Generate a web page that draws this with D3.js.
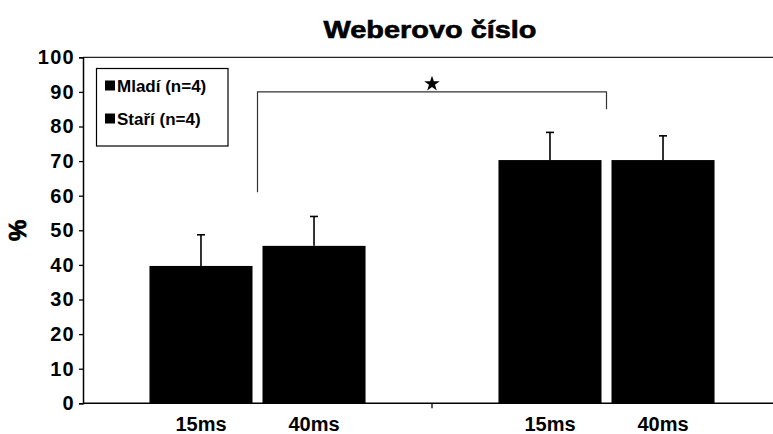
<!DOCTYPE html>
<html>
<head>
<meta charset="utf-8">
<script src="https://cdn.jsdelivr.net/npm/d3@7"></script>
<style>
  body { margin: 0; background: #fff; }
  text { font-family: "Liberation Sans", Arial, sans-serif; fill: #000; }
</style>
</head>
<body>
<svg id="chart"></svg>
<script>
const width = 773;
const height = 434;

// data
const groups = ["Mladí (n=4)", "Staří (n=4)"];
const conditions = ["15ms", "40ms"];
const means = [[39.7, 45.5], [70.3, 70.3]];
const errors = [[9, 8.5], [8, 7]];
const yTicks = [0, 10, 20, 30, 40, 50, 60, 70, 80, 90, 100];
// significance bracket: height and where each leg ends (in %)
const bracket = { top: 90, leftEnd: 61, rightEnd: 85, label: "*" };

const margin = { left: 83, top: 57.3, bottom: 30.7 };

const svg = d3.select("#chart")
  .attr("width", width)
  .attr("height", height);

const x0 = d3.scaleBand()
  .domain(groups)
  .range([margin.left, 781])
  .paddingInner(0)
  .paddingOuter(0);

const x1 = d3.scaleBand()
  .domain(conditions)
  .range([0, x0.bandwidth()])
  .paddingInner(0.0885)
  .paddingOuter(0.588);

const y = d3.scaleLinear()
  .domain([0, 100])
  .range([height - margin.bottom, margin.top]);

// title
svg.append("text")
  .attr("x", 430)
  .attr("y", 38)
  .attr("text-anchor", "middle")
  .attr("font-size", 23)
  .attr("font-weight", "bold")
  .attr("stroke", "#000").attr("stroke-width", 0.6)
  .attr("textLength", 213)
  .attr("lengthAdjust", "spacingAndGlyphs")
  .text("Weberovo číslo");

// top frame line
svg.append("line")
  .attr("x1", margin.left).attr("x2", width)
  .attr("y1", y(100)).attr("y2", y(100))
  .attr("stroke", "#222").attr("stroke-width", 1.3);

// bars
const rows = [];
groups.forEach((g, i) => {
  conditions.forEach((c, j) => {
    rows.push({ group: g, cond: c, value: means[i][j], err: errors[i][j] });
  });
});

const bar = svg.append("g").selectAll("g")
  .data(rows)
  .enter().append("g")
  .attr("transform", d => `translate(${x0(d.group) + x1(d.cond)},0)`);

bar.append("rect")
  .attr("x", 0)
  .attr("width", x1.bandwidth())
  .attr("y", d => y(d.value))
  .attr("height", d => y(0) - y(d.value))
  .attr("fill", "#000");

// error bars (upper only)
const cx = x1.bandwidth() / 2;
bar.append("line")
  .attr("x1", cx).attr("x2", cx)
  .attr("y1", d => y(d.value))
  .attr("y2", d => y(d.value + d.err))
  .attr("stroke", "#000").attr("stroke-width", 1.6);
bar.append("line")
  .attr("x1", cx - 4).attr("x2", cx + 4)
  .attr("y1", d => y(d.value + d.err))
  .attr("y2", d => y(d.value + d.err))
  .attr("stroke", "#000").attr("stroke-width", 1.6);

// y axis
const yAxis = svg.append("g")
  .attr("transform", `translate(${margin.left},0)`)
  .call(d3.axisLeft(y).tickValues(yTicks).tickSize(4).tickPadding(4));
yAxis.select(".domain").attr("stroke", "#000").attr("stroke-width", 1.5);
yAxis.selectAll(".tick line").attr("stroke", "#000").attr("stroke-width", 1.3);
yAxis.selectAll(".tick text")
  .attr("font-size", 20)
  .attr("font-weight", "bold")
  .attr("letter-spacing", 1.3)
  .attr("font-family", "Liberation Sans, Arial, sans-serif");

// x axis line with group separator ticks
svg.append("line")
  .attr("x1", margin.left).attr("x2", width)
  .attr("y1", y(0)).attr("y2", y(0))
  .attr("stroke", "#000").attr("stroke-width", 1.5);
svg.append("g").selectAll("line")
  .data(groups.slice(1))
  .enter().append("line")
  .attr("x1", d => x0(d)).attr("x2", d => x0(d))
  .attr("y1", y(0)).attr("y2", y(0) + 5)
  .attr("stroke", "#000").attr("stroke-width", 1.3);

// condition labels under each bar
svg.append("g").selectAll("text")
  .data(rows)
  .enter().append("text")
  .attr("x", d => x0(d.group) + x1(d.cond) + x1.bandwidth() / 2)
  .attr("y", 431)
  .attr("text-anchor", "middle")
  .attr("font-size", 20)
  .attr("font-weight", "bold")
  .text(d => d.cond);

// y label
svg.append("text")
  .attr("transform", `translate(26,${y(50)}) rotate(-90)`)
  .attr("text-anchor", "middle")
  .attr("font-size", 24)
  .attr("font-weight", "bold")
  .attr("stroke", "#000").attr("stroke-width", 0.8)
  .text("%");

// legend
const legend = svg.append("g");
legend.append("rect")
  .attr("x", 96.5).attr("y", 68.5)
  .attr("width", 131.5).attr("height", 77.5)
  .attr("fill", "#fff")
  .attr("stroke", "#000").attr("stroke-width", 1.2);
const item = legend.selectAll("g")
  .data(groups)
  .enter().append("g")
  .attr("transform", (d, i) => `translate(105,${85.5 + i * 33})`);
item.append("rect")
  .attr("x", 0).attr("y", -5)
  .attr("width", 10).attr("height", 10)
  .attr("fill", "#000");
item.append("text")
  .attr("x", 12)
  .attr("y", 6)
  .attr("font-size", 17)
  .attr("font-weight", "bold")
  .text(d => d);

// significance bracket
const bx1 = x0(groups[0]) + x0.bandwidth() / 2;
const bx2 = x0(groups[1]) + x0.bandwidth() / 2;
svg.append("path")
  .attr("d", `M${bx1},${y(bracket.leftEnd)}V${y(bracket.top)}H${bx2}V${y(bracket.rightEnd)}`)
  .attr("fill", "none")
  .attr("stroke", "#333").attr("stroke-width", 1.2);
svg.append("path")
  .attr("d", d3.symbol().type(d3.symbolStar).size(75)())
  .attr("transform", `translate(${(bx1 + bx2) / 2},${y(bracket.top) - 8})`)
  .attr("fill", "#000");
</script>
</body>
</html>
